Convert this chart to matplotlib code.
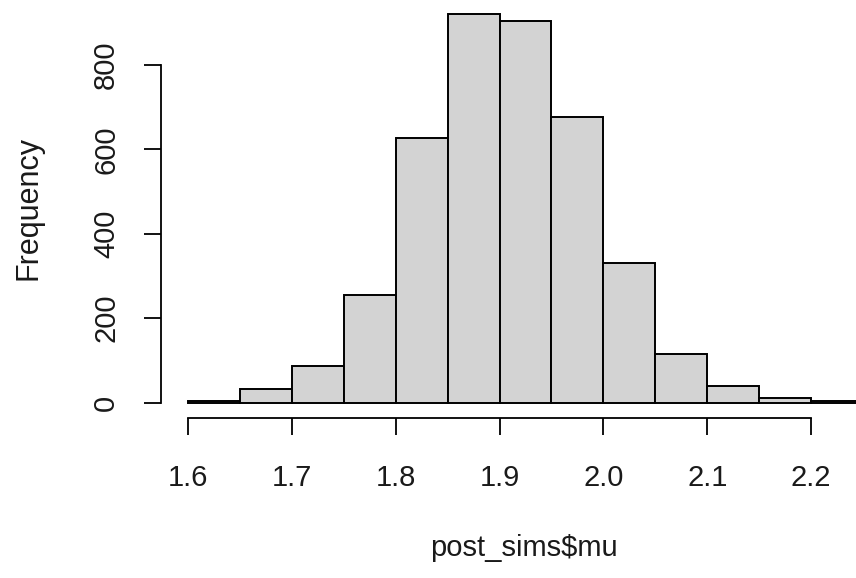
import matplotlib
matplotlib.use("Agg")
import matplotlib.pyplot as plt
import numpy as np

plt.rcParams['font.family'] = ['Liberation Sans', 'DejaVu Sans']

bin_edges = [1.60, 1.65, 1.70, 1.75, 1.80, 1.85, 1.90, 1.95, 2.00, 2.05, 2.10, 2.15, 2.20, 2.25]
counts = [3, 32, 87, 255, 627, 920, 905, 676, 330, 115, 40, 10, 3]
x_ticks = [1.6, 1.7, 1.8, 1.9, 2.0, 2.1, 2.2]
x_tick_labels = ["1.6", "1.7", "1.8", "1.9", "2.0", "2.1", "2.2"]
y_ticks = [0, 200, 400, 600, 800]
x_label = "post_sims$mu"
y_label = "Frequency"

W, H = 856, 578
fig = plt.figure(figsize=(W / 100, H / 100), dpi=100)

# axes placement in pixels
left_px, right_px = 161.0, 890.0
top_px, bottom_px = -1.2, 418.2
ax = fig.add_axes([left_px / W, 1 - bottom_px / H, (right_px - left_px) / W, (bottom_px - top_px) / H])
ax.set_xlim(1.574, 2.276)
ax.set_ylim(-36.8, 956.8)

lefts = np.array(bin_edges[:-1])
widths = np.diff(bin_edges)
ax.bar(lefts, counts, width=widths, align='edge', color='#D3D3D3',
       edgecolor='black', linewidth=1.4, clip_on=False)

for s in ['top', 'right']:
    ax.spines[s].set_visible(False)
ax.spines['left'].set_bounds(0, 800)
ax.spines['bottom'].set_bounds(1.6, 2.2)
ax.spines['left'].set_linewidth(1.3)
ax.spines['bottom'].set_linewidth(1.3)

ax.set_xticks(x_ticks)
ax.set_xticklabels(x_tick_labels)
ax.set_yticks(y_ticks)
ax.set_yticklabels([str(v) for v in y_ticks], rotation=90, va='center')
ax.tick_params(axis='both', length=12.5, width=1.3, labelsize=21,
               colors='black', labelcolor='#1a1a1a')
ax.tick_params(axis='x', pad=20.5)
ax.tick_params(axis='y', pad=17)

fig.text(524 / W, 1 - 548 / H, x_label, ha='center', va='center', fontsize=21, color='#1a1a1a')
fig.text(29 / W, 1 - 208 / H, y_label, ha='center', va='center', rotation=90, fontsize=22, color='#1a1a1a')

fig.savefig("out.png", dpi=100)
